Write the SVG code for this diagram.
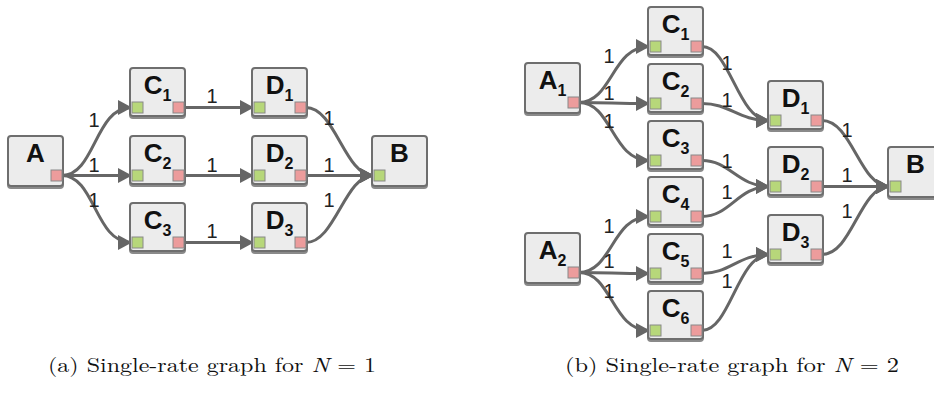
<svg xmlns="http://www.w3.org/2000/svg" width="934" height="395" viewBox="0 0 934 395">
<style>
.bx{fill:#ececec;stroke:#6e6e6e;stroke-width:2}
.sh{fill:#cfcfcf;stroke:#8a8a8a;stroke-width:2}
.pi{fill:#b7d77a;stroke:#888;stroke-width:1}
.po{fill:#ec9c9c;stroke:#888;stroke-width:1}
.nl{font-family:"Liberation Sans",Arial,sans-serif;font-weight:bold;font-size:26px;fill:#111;text-anchor:middle}
.nl tspan{font-size:16px}
.e{fill:none;stroke:#666;stroke-width:3}
.el{font-family:"Liberation Sans",Arial,sans-serif;font-size:20px;fill:#222;text-anchor:middle}
.cap{font-family:"Latin Modern Roman","CMU Serif","Liberation Serif","DejaVu Serif",serif;font-size:20px;fill:#111}
</style>
<defs>
<marker id="ar" markerUnits="userSpaceOnUse" markerWidth="14" markerHeight="15" refX="13" refY="7.5" orient="auto" viewBox="0 0 14 15">
<path d="M0,0 L14,7.5 L0,15 z" fill="#666"/>
</marker>
<g id="nodeBig"><rect class="sh" x="0" y="2" width="55" height="50" rx="3"/><rect class="bx" x="0" y="0" width="55" height="50" rx="3"/></g>
<g id="nodeSm"><rect class="sh" x="0" y="2" width="55" height="48" rx="3"/><rect class="bx" x="0" y="0" width="55" height="48" rx="3"/><rect class="pi" x="2" y="34" width="11" height="11"/><rect class="po" x="43" y="34" width="11" height="11"/></g>
</defs>

<g id="connectors">
<!-- (a) -->
<path class="e" marker-end="url(#ar)" d="M62,175.5 C95,175.5 95,107.5 131,107.5"/>
<path class="e" marker-end="url(#ar)" d="M62,175.5 L131,175.5"/>
<path class="e" marker-end="url(#ar)" d="M62,175.5 C95,175.5 95,242.5 131,242.5"/>
<path class="e" marker-end="url(#ar)" d="M184,107.5 L253,107.5"/>
<path class="e" marker-end="url(#ar)" d="M184,175.5 L253,175.5"/>
<path class="e" marker-end="url(#ar)" d="M184,242.5 L253,242.5"/>
<path class="e" marker-end="url(#ar)" d="M306,107.5 C335,107.5 345,175.5 373,175.5"/>
<path class="e" marker-end="url(#ar)" d="M306,175.5 L373,175.5"/>
<path class="e" marker-end="url(#ar)" d="M306,242.5 C335,242.5 345,175.5 373,175.5"/>
<!-- (b) -->
<path class="e" marker-end="url(#ar)" d="M579,102.5 C612,102.5 612,46.5 649,46.5"/>
<path class="e" marker-end="url(#ar)" d="M579,102.5 C612,102.5 612,103.5 649,103.5"/>
<path class="e" marker-end="url(#ar)" d="M579,102.5 C612,102.5 612,160.5 649,160.5"/>
<path class="e" marker-end="url(#ar)" d="M579,272.5 C612,272.5 612,216.5 649,216.5"/>
<path class="e" marker-end="url(#ar)" d="M579,272.5 C612,272.5 612,273.5 649,273.5"/>
<path class="e" marker-end="url(#ar)" d="M579,272.5 C612,272.5 612,330.5 649,330.5"/>
<path class="e" marker-end="url(#ar)" d="M702,46.5 C730,46.5 738,120.5 769,120.5"/>
<path class="e" marker-end="url(#ar)" d="M702,103.5 C730,103.5 738,120.5 769,120.5"/>
<path class="e" marker-end="url(#ar)" d="M702,160.5 C730,160.5 738,186.5 769,186.5"/>
<path class="e" marker-end="url(#ar)" d="M702,216.5 C730,216.5 738,186.5 769,186.5"/>
<path class="e" marker-end="url(#ar)" d="M702,273.5 C730,273.5 738,254.5 769,254.5"/>
<path class="e" marker-end="url(#ar)" d="M702,330.5 C730,330.5 738,254.5 769,254.5"/>
<path class="e" marker-end="url(#ar)" d="M822,120.5 C852,120.5 860,186.5 889,186.5"/>
<path class="e" marker-end="url(#ar)" d="M822,186.5 L889,186.5"/>
<path class="e" marker-end="url(#ar)" d="M822,254.5 C852,254.5 860,186.5 889,186.5"/>
</g>

<g id="edge-labels">
<text class="el" x="94" y="127">1</text>
<text class="el" x="94" y="172">1</text>
<text class="el" x="94" y="207">1</text>
<text class="el" x="212" y="103">1</text>
<text class="el" x="212" y="172">1</text>
<text class="el" x="212" y="238">1</text>
<text class="el" x="329" y="125">1</text>
<text class="el" x="329" y="172">1</text>
<text class="el" x="329" y="207">1</text>
<text class="el" x="609" y="63">1</text>
<text class="el" x="609" y="100">1</text>
<text class="el" x="609" y="128">1</text>
<text class="el" x="609" y="233">1</text>
<text class="el" x="609" y="268">1</text>
<text class="el" x="609" y="298">1</text>
<text class="el" x="727" y="70">1</text>
<text class="el" x="727" y="107">1</text>
<text class="el" x="727" y="168">1</text>
<text class="el" x="727" y="199">1</text>
<text class="el" x="727" y="258">1</text>
<text class="el" x="727" y="288">1</text>
<text class="el" x="847" y="137">1</text>
<text class="el" x="847" y="182">1</text>
<text class="el" x="847" y="218">1</text>
</g>

<!-- (a) nodes -->
<g id="a-A" transform="translate(8,136)"><use href="#nodeBig"/><rect class="po" x="43" y="34" width="11" height="11"/><text class="nl" x="27.5" y="26">A</text></g>
<g id="a-C1" transform="translate(130,68)"><use href="#nodeSm"/><text class="nl" x="27.5" y="26">C<tspan dy="7">1</tspan></text></g>
<g id="a-C2" transform="translate(130,136)"><use href="#nodeSm"/><text class="nl" x="27.5" y="26">C<tspan dy="7">2</tspan></text></g>
<g id="a-C3" transform="translate(130,203)"><use href="#nodeSm"/><text class="nl" x="27.5" y="26">C<tspan dy="7">3</tspan></text></g>
<g id="a-D1" transform="translate(252,68)"><use href="#nodeSm"/><text class="nl" x="27.5" y="26">D<tspan dy="7">1</tspan></text></g>
<g id="a-D2" transform="translate(252,136)"><use href="#nodeSm"/><text class="nl" x="27.5" y="26">D<tspan dy="7">2</tspan></text></g>
<g id="a-D3" transform="translate(252,203)"><use href="#nodeSm"/><text class="nl" x="27.5" y="26">D<tspan dy="7">3</tspan></text></g>
<g id="a-B" transform="translate(372,136)"><use href="#nodeBig"/><rect class="pi" x="2" y="34" width="11" height="11"/><text class="nl" x="27.5" y="26">B</text></g>

<!-- (b) nodes -->
<g id="b-A1" transform="translate(525,63)"><use href="#nodeBig"/><rect class="po" x="43" y="34" width="11" height="11"/><text class="nl" x="27.5" y="26">A<tspan dy="7">1</tspan></text></g>
<g id="b-A2" transform="translate(525,233)"><use href="#nodeBig"/><rect class="po" x="43" y="34" width="11" height="11"/><text class="nl" x="27.5" y="26">A<tspan dy="7">2</tspan></text></g>
<g id="b-C1" transform="translate(648,7)"><use href="#nodeSm"/><text class="nl" x="27.5" y="26">C<tspan dy="7">1</tspan></text></g>
<g id="b-C2" transform="translate(648,64)"><use href="#nodeSm"/><text class="nl" x="27.5" y="26">C<tspan dy="7">2</tspan></text></g>
<g id="b-C3" transform="translate(648,121)"><use href="#nodeSm"/><text class="nl" x="27.5" y="26">C<tspan dy="7">3</tspan></text></g>
<g id="b-C4" transform="translate(648,177)"><use href="#nodeSm"/><text class="nl" x="27.5" y="26">C<tspan dy="7">4</tspan></text></g>
<g id="b-C5" transform="translate(648,234)"><use href="#nodeSm"/><text class="nl" x="27.5" y="26">C<tspan dy="7">5</tspan></text></g>
<g id="b-C6" transform="translate(648,291)"><use href="#nodeSm"/><text class="nl" x="27.5" y="26">C<tspan dy="7">6</tspan></text></g>
<g id="b-D1" transform="translate(768,81)"><use href="#nodeSm"/><text class="nl" x="27.5" y="26">D<tspan dy="7">1</tspan></text></g>
<g id="b-D2" transform="translate(768,147)"><use href="#nodeSm"/><text class="nl" x="27.5" y="26">D<tspan dy="7">2</tspan></text></g>
<g id="b-D3" transform="translate(768,215)"><use href="#nodeSm"/><text class="nl" x="27.5" y="26">D<tspan dy="7">3</tspan></text></g>
<g id="b-B" transform="translate(888,147)"><use href="#nodeBig"/><rect class="pi" x="2" y="34" width="11" height="11"/><text class="nl" x="27.5" y="26">B</text></g>

<g id="captions">
<text class="cap" x="48" y="372" textLength="328" lengthAdjust="spacingAndGlyphs">(a) Single-rate graph for <tspan font-style="italic">N</tspan> = 1</text>
<text class="cap" x="565" y="372" textLength="334" lengthAdjust="spacingAndGlyphs">(b) Single-rate graph for <tspan font-style="italic">N</tspan> = 2</text>
</g>
</svg>
